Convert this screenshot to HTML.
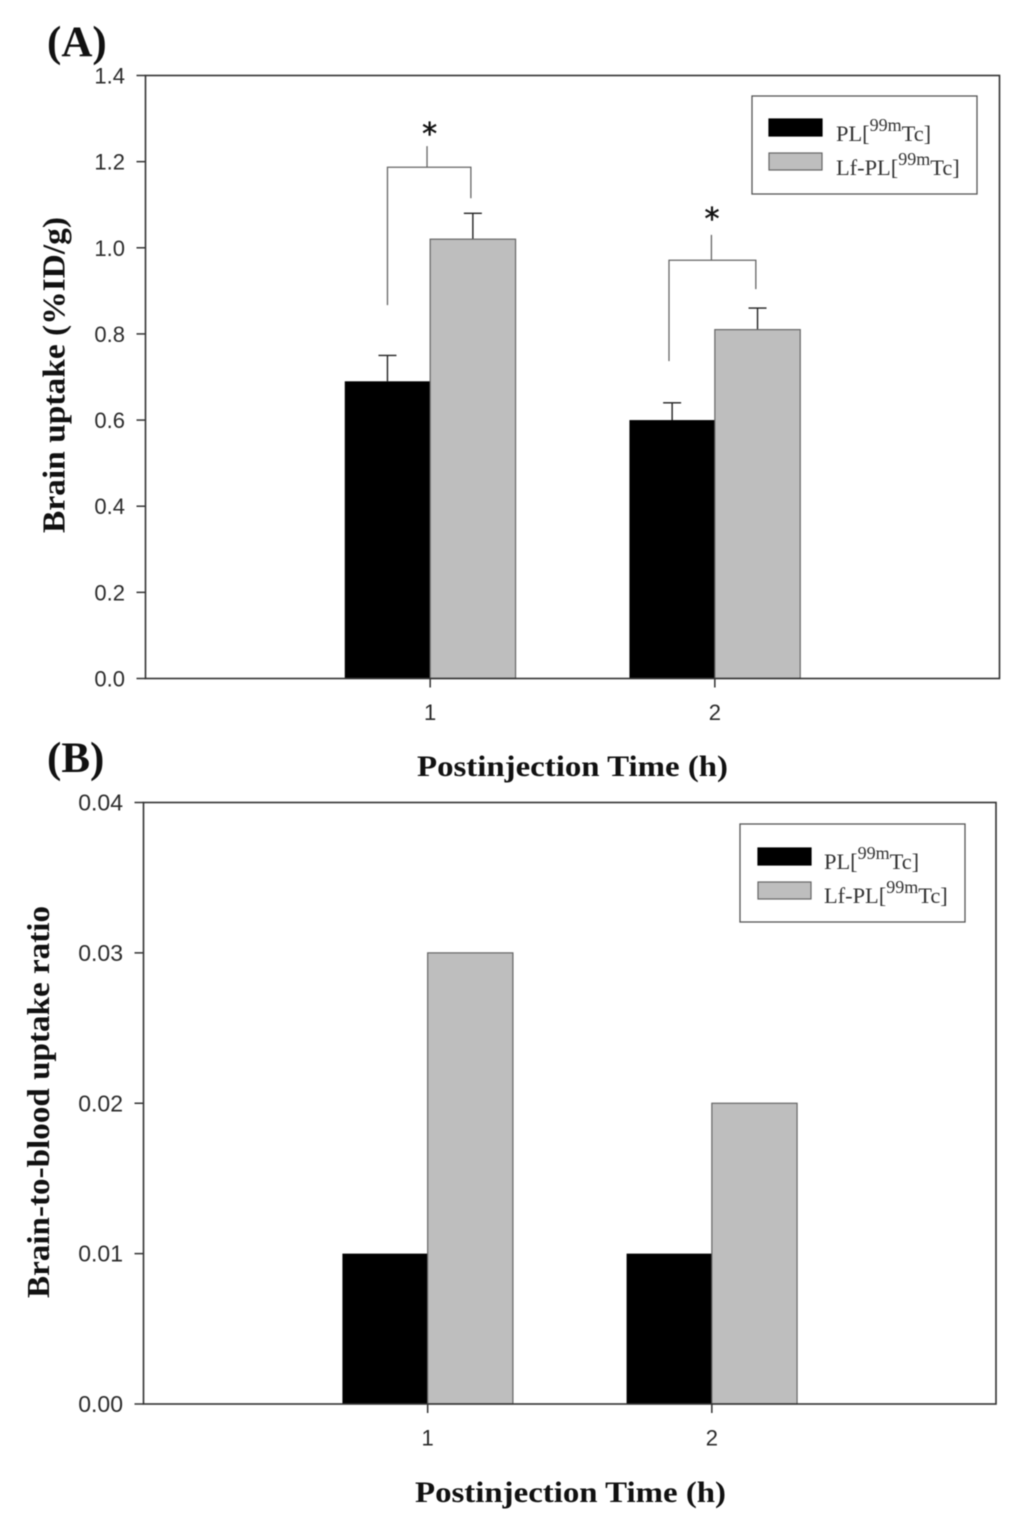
<!DOCTYPE html>
<html>
<head>
<meta charset="utf-8">
<style>
html,body{margin:0;padding:0;background:#fff;width:1024px;height:1537px;overflow:hidden}
svg{display:block;filter:blur(0.5px)}
.tick{font:22px "Liberation Sans",sans-serif;fill:#2b2b2b}
.title{font:bold 30px "Liberation Serif",serif;fill:#111}
.ytitle{font:bold 32px "Liberation Serif",serif;fill:#111}
.panel{font:bold 43px "Liberation Serif",serif;fill:#111}
.leg{font:22.4px "Liberation Serif",serif;fill:#333}
.star{font:30px "DejaVu Sans",sans-serif;fill:#111;stroke:#111;stroke-width:0.5px}
</style>
</head>
<body>
<svg id="chart" xmlns="http://www.w3.org/2000/svg" width="1024" height="1537" viewBox="0 0 1024 1537"></svg>
<script>
const categories = [1, 2];
const plSeriesA = [0.69, 0.60];
const lfSeriesA = [1.02, 0.81];
const plErrorA = [0.06, 0.04];
const lfErrorA = [0.06, 0.05];
const yTicksA = ["0.0", "0.2", "0.4", "0.6", "0.8", "1.0", "1.2", "1.4"];
const plSeriesB = [0.01, 0.01];
const lfSeriesB = [0.03, 0.02];
const yTicksB = ["0.00", "0.01", "0.02", "0.03", "0.04"];
const bracketTop = [1.187, 0.971];
const bracketStemTop = [1.236, 1.03];
const bracketLeftEnd = [0.867, 0.737];
const bracketRightEnd = [1.115, 0.904];
const bracketLeftAt = [0.85, 1.839];
const bracketRightAt = [1.143, 2.144];
const bracketStemAt = [0.989, 1.988];
const starAt = [0.998, 1.99];
const starLevel = [1.276, 1.078];

const NS = "http://www.w3.org/2000/svg";
const root = document.getElementById("chart");

function add(parent, tag, attrs, text) {
  const el = document.createElementNS(NS, tag);
  for (const k in attrs) el.setAttribute(k, attrs[k]);
  if (text !== undefined) el.textContent = text;
  parent.appendChild(el);
  return el;
}
function line(parent, x1, y1, x2, y2, stroke, width, name) {
  const el = add(parent, "line", {x1, y1, x2, y2, stroke, "stroke-width": width});
  
  
  return el;
}

function legend(cfg) {
  const g = add(root, "g", {});
  
  
  const box = add(g, "rect", {x: cfg.x, y: cfg.y, width: 225, height: 98, fill: "#fff", stroke: "#555", "stroke-width": 1.3});
  
  
  const entries = [["PL[", "#000", "#000", 23], ["Lf-PL[", "#bebebe", "#666", 57]];
  entries.forEach(function (e) {
    const sw = add(g, "rect", {x: cfg.x + cfg.sx, y: cfg.y + e[3] + cfg.sy, width: 53, height: 17, fill: e[1], stroke: e[2], "stroke-width": 1.2});
    
    
    const t = add(g, "text", {x: cfg.x + 84, y: cfg.y + e[3] + 22, class: "leg"});
    
    
    add(t, "tspan", {}, e[0]);
    add(t, "tspan", {dy: -10, "font-size": 18}, "99m");
    add(t, "tspan", {dy: 10}, "Tc]");
  });
}

function panel(cfg) {
  const g = add(root, "g", {});
  
  
  const sy = function (v) { return cfg.bottom - (v / cfg.yMax) * (cfg.bottom - cfg.top); };
  const sx = function (v) { return cfg.left + (v / 3) * (cfg.right - cfg.left); };
  const bw = 0.3 * (cfg.right - cfg.left) / 3;

  // bars
  categories.forEach(function (c, i) {
    const x = sx(c);
    const hasErr = !!cfg.plErr;
    if (hasErr) {
      line(g, x - bw / 2, sy(cfg.pl[i]), x - bw / 2, sy(cfg.pl[i] + cfg.plErr[i]), "#222", 1.4, "error-bar-pl");
      line(g, x - bw / 2 - 9, sy(cfg.pl[i] + cfg.plErr[i]), x - bw / 2 + 9, sy(cfg.pl[i] + cfg.plErr[i]), "#222", 1.4, "error-cap-pl");
      line(g, x + bw / 2, sy(cfg.lf[i]), x + bw / 2, sy(cfg.lf[i] + cfg.lfErr[i]), "#222", 1.4, "error-bar-lf");
      line(g, x + bw / 2 - 9, sy(cfg.lf[i] + cfg.lfErr[i]), x + bw / 2 + 9, sy(cfg.lf[i] + cfg.lfErr[i]), "#222", 1.4, "error-cap-lf");
    }
    const b1 = add(g, "rect", {x: x - bw, y: sy(cfg.pl[i]), width: bw, height: sy(0) - sy(cfg.pl[i]), fill: "#000"});
    
    
    const b2 = add(g, "rect", {x: x, y: sy(cfg.lf[i]), width: bw, height: sy(0) - sy(cfg.lf[i]), fill: "#bebebe", stroke: "#666", "stroke-width": 1.2});
    
    
  });

  // frame
  const frame = add(g, "rect", {x: cfg.left, y: cfg.top, width: cfg.right - cfg.left, height: cfg.bottom - cfg.top, fill: "none", stroke: "#333", "stroke-width": 1.6});
  
  

  // y ticks
  cfg.yTicks.forEach(function (label) {
    const y = sy(parseFloat(label));
    line(g, cfg.left - 9, y, cfg.left, y, "#333", 1.5, "y-tick");
    const t = add(g, "text", {x: cfg.left - 20.5, y: y + 8, class: "tick", "text-anchor": "end", "font-size": cfg.tickSize, style: "font-size:" + cfg.tickSize + "px"}, label);
    
    
  });

  // x ticks
  categories.forEach(function (c) {
    const x = sx(c);
    line(g, x, cfg.bottom, x, cfg.bottom + 9, "#333", 1.5, "x-tick");
    const t = add(g, "text", {x: x, y: cfg.bottom + 41.5, class: "tick", "text-anchor": "middle"}, String(c));
    
    
  });

  // titles
  const xt = add(g, "text", {x: cfg.xTitleX, y: cfg.xTitleY, class: "title", "text-anchor": "middle", textLength: 311, lengthAdjust: "spacingAndGlyphs"}, "Postinjection Time (h)");
  
  
  const yt = add(g, "text", {transform: "translate(" + cfg.yTitleX + "," + cfg.yTitleY + ") rotate(-90)", class: "ytitle", "text-anchor": "middle", textLength: cfg.yTitleLen, lengthAdjust: "spacingAndGlyphs"}, cfg.yTitle);
  
  
  const pl = add(g, "text", {x: 47, y: cfg.panelY, class: "panel"}, cfg.panelLabel);
  
  

  // significance brackets
  if (cfg.brackets) {
    categories.forEach(function (c, i) {
      const lx = sx(bracketLeftAt[i]);
      const rx = sx(bracketRightAt[i]);
      const mx = sx(bracketStemAt[i]);
      const s = add(g, "polyline", {
        points: lx + "," + sy(bracketLeftEnd[i]) + " " + lx + "," + sy(bracketTop[i]) + " " + rx + "," + sy(bracketTop[i]) + " " + rx + "," + sy(bracketRightEnd[i]),
        fill: "none", stroke: "#666", "stroke-width": 1.3
      });
      
      
      line(g, mx, sy(bracketTop[i]), mx, sy(bracketStemTop[i]), "#666", 1.3, "bracket-stem");
      const st = add(g, "text", {x: sx(starAt[i]), y: sy(starLevel[i]) + 15, class: "star", "text-anchor": "middle"}, "*");
      
      
    });
  }
  legend(cfg.legend);
}

panel({
  name: "panel-a", left: 145.5, right: 999.5, top: 75.5, bottom: 678.5, yMax: 1.4, tickSize: 22,
  pl: plSeriesA, lf: lfSeriesA, plErr: plErrorA, lfErr: lfErrorA, yTicks: yTicksA,
  xTitleX: 572.5, xTitleY: 776, yTitle: "Brain uptake (%ID/g)", yTitleX: 64.5, yTitleY: 375, yTitleLen: 316,
  panelLabel: "(A)", panelY: 56, brackets: true, legend: {x: 752, y: 96, sx: 17, sy: 0}
});
panel({
  name: "panel-b", left: 143.5, right: 996, top: 802.5, bottom: 1404, yMax: 0.04, tickSize: 23,
  pl: plSeriesB, lf: lfSeriesB, yTicks: yTicksB,
  xTitleX: 570.5, xTitleY: 1502, yTitle: "Brain-to-blood uptake ratio", yTitleX: 49, yTitleY: 1102, yTitleLen: 392,
  panelLabel: "(B)", panelY: 772, brackets: false, legend: {x: 740, y: 824, sx: 18, sy: 1}
});
</script>
</body>
</html>
